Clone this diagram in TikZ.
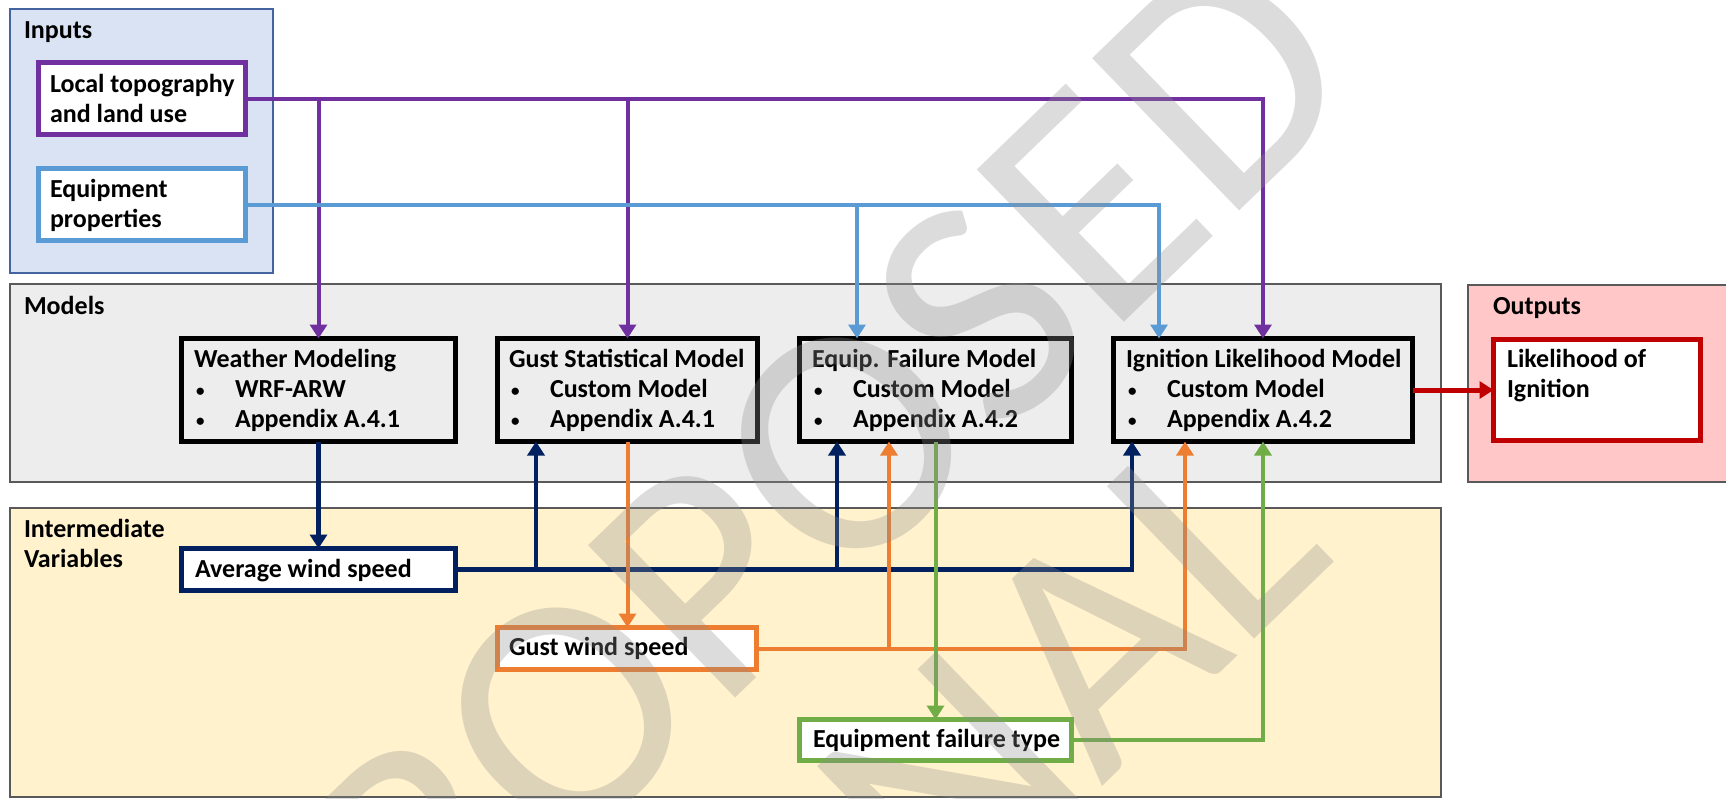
\documentclass[tikz,border=0pt]{standalone}
\usepackage{fontspec}
\setmainfont{Carlito}
\usetikzlibrary{arrows.meta,calc}

\definecolor{inputsbg}{RGB}{218,227,243}
\definecolor{inputsframe}{RGB}{68,100,160}
\definecolor{modelsbg}{RGB}{237,237,237}
\definecolor{outputsbg}{RGB}{255,199,199}
\definecolor{interbg}{RGB}{255,242,204}
\definecolor{panelframe}{RGB}{89,89,89}
\definecolor{cpurple}{RGB}{112,48,160}
\definecolor{cblue}{RGB}{91,155,213}
\definecolor{cnavy}{RGB}{0,32,96}
\definecolor{corange}{RGB}{237,125,49}
\definecolor{cgreen}{RGB}{112,173,71}
\definecolor{cred}{RGB}{192,0,0}
\definecolor{wmgray}{RGB}{143,143,143}

% small list bullet followed by the item indent
\newcommand\itemdot{\hspace*{2pt}\makebox[39pt][l]{\raisebox{1pt}{\fontsize{17}{17}\selectfont\textbullet}}}
% three-line text of a model box: title and two bullet items
\newcommand\modellines[3]{\vtop{\hbox{#1}\hbox{\itemdot#2}\hbox{\itemdot#3}}}
\newcommand\twolines[2]{\vtop{\hbox{#1}\hbox{#2}}}

\begin{document}
\begin{tikzpicture}[x=1pt,y=-1pt,
  every node/.style={inner sep=0pt, outer sep=0pt},
  txt/.style={anchor=base west, font=\fontsize{26}{30}\selectfont\bfseries},
  panel/.style={draw=panelframe, line width=1.5pt},
  frame/.style={draw=#1, line width=5pt, rectangle},
  conn/.style={draw=#1, line width=4pt, -{Triangle[length=14pt,width=17pt]}},
  wm/.style={font=\fontsize{330}{396}\selectfont, text=wmgray, text opacity=0.31, rotate=44}
]
\useasboundingbox (0,0) rectangle (1726,798);

% panels
\draw[line width=1.5pt, draw=inputsframe, fill=inputsbg] (10,9) rectangle (273,273);
\draw[panel, fill=modelsbg] (10,284) rectangle (1441,482);
\draw[panel, fill=outputsbg] (1468,285) rectangle (1745,482);
\draw[panel, fill=interbg] (10,508) rectangle (1441,797);

\node[txt] (lblIn) at (24,38) {Inputs};
\node[txt] (lblMod) at (24,314) {Models};
\node[txt] (lblOut) at (1493,314) {Outputs};
\node[txt] (lblInt) at (24,537) {\twolines{Intermediate}{Variables}};

% inputs
\node[frame=cpurple, fill=white, minimum width=207pt, minimum height=72pt] (topo) at (142,98.5) {};
\node[txt] (topoT) at (50,92) {\twolines{Local topography}{and land use}};
\node[frame=cblue, fill=white, minimum width=207pt, minimum height=72pt] (equipP) at (142,204.5) {};
\node[txt] (equipPT) at (50,197) {\twolines{Equipment}{properties}};

% models
\node[frame=black, minimum width=274pt, minimum height=103pt] (weather) at (318.5,390) {};
\node[txt] (weatherT) at (194,367) {\modellines{Weather Modeling}{WRF-ARW}{Appendix A.4.1}};
\node[frame=black, minimum width=260pt, minimum height=103pt] (gstat) at (627.5,390) {};
\node[txt] (gstatT) at (509,367) {\modellines{Gust Statistical Model}{Custom Model}{Appendix A.4.1}};
\node[frame=black, minimum width=272pt, minimum height=103pt] (efail) at (935.5,390) {};
\node[txt] (efailT) at (812,367) {\modellines{Equip. Failure Model}{Custom Model}{Appendix A.4.2}};
\node[frame=black, minimum width=299pt, minimum height=103pt] (ign) at (1263,390) {};
\node[txt] (ignT) at (1126,367) {\modellines{Ignition Likelihood Model}{Custom Model}{Appendix A.4.2}};

% output
\node[frame=cred, fill=white, minimum width=207pt, minimum height=101pt] (likely) at (1597,390) {};
\node[txt] (likelyT) at (1507,367) {\twolines{Likelihood of}{Ignition}};

% intermediate variables
\node[frame=cnavy, fill=white, minimum width=274pt, minimum height=42pt] (avg) at (318.5,569.5) {};
\node[txt] (avgT) at (195,577) {Average wind speed};
\node[frame=corange, fill=white, minimum width=259pt, minimum height=42pt] (gwind) at (627,648.5) {};
\node[txt] (gwindT) at (509,655) {Gust wind speed};
\node[frame=cgreen, fill=white, minimum width=272pt, minimum height=41pt] (eftype) at (935.5,740) {};
\node[txt] (eftypeT) at (813,747) {Equipment failure type};

% drop / rise positions of the connectors
\coordinate (xB1) at (857,0);
\coordinate (xB2) at (1159,0);
\coordinate (xN1) at (536,0);
\coordinate (xN2) at (837,0);
\coordinate (xN3) at (1132,0);
\coordinate (xO1) at (889,0);
\coordinate (xO2) at (1185,0);

% topography feeds
\draw[conn=cpurple] (topo.east) -| (ign.north);
\draw[conn=cpurple] (topo.east -| weather.north) -- (weather.north);
\draw[conn=cpurple] (topo.east -| gstat.north) -- (gstat.north);
% equipment property feeds
\draw[conn=cblue] (equipP.east) -| (xB2 |- ign.north);
\draw[conn=cblue] (equipP.east -| xB1) -- (xB1 |- efail.north);
% average wind speed
\draw[conn=cnavy, line width=4.5pt] (weather.south) -- (avg.north);
\draw[conn=cnavy, line width=4.5pt] (avg.east) -| (xN3 |- ign.south);
\draw[conn=cnavy, line width=4.5pt] (avg.east -| xN1) -- (xN1 |- gstat.south);
\draw[conn=cnavy, line width=4.5pt] (avg.east -| xN2) -- (xN2 |- efail.south);
% gust wind speed
\draw[conn=corange] (gstat.south) -- (gstat.south |- gwind.north);
\draw[conn=corange] (gwind.east) -| (xO2 |- ign.south);
\draw[conn=corange] (gwind.east -| xO1) -- (xO1 |- efail.south);
% equipment failure type
\draw[conn=cgreen] (efail.south) -- (eftype.north);
\draw[conn=cgreen] (eftype.east) -| (ign.south);
% ignition likelihood
\draw[conn=cred, line width=5pt] (ign.east) -- (likely.west);

% watermark
\node[wm] (wm1) at (767,520) {PROPOSED};
\node[wm] (wm2) at (985,752) {FINAL};
\end{tikzpicture}
\end{document}
